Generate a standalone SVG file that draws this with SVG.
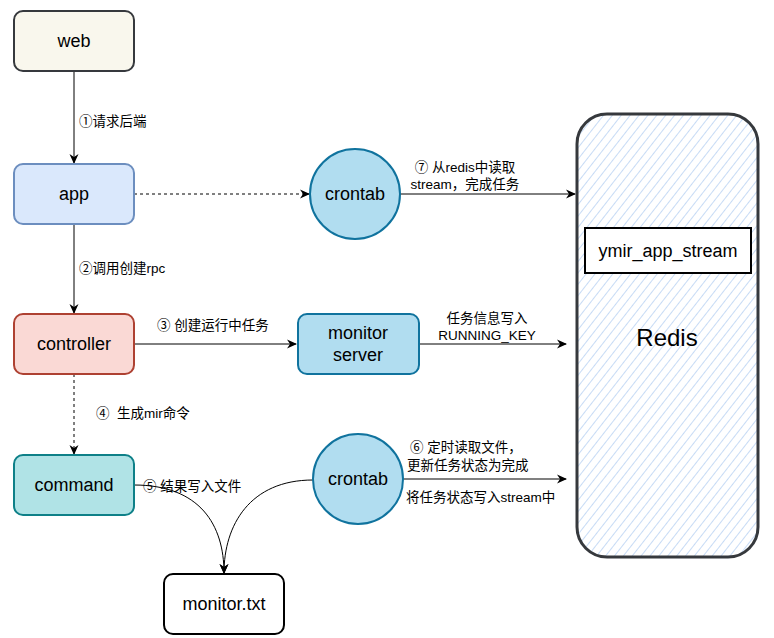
<svg xmlns="http://www.w3.org/2000/svg" width="774" height="638" viewBox="0 0 774 638">
<style>
.lbl{font-family:"Liberation Sans","Noto Sans CJK SC",Arial,sans-serif;font-size:18px;fill:#000;text-anchor:middle;dominant-baseline:central}
.el{font-family:"Liberation Sans","Noto Sans CJK SC",Arial,sans-serif;font-size:13.5px;fill:#000}
.edge{fill:none;stroke:#000;stroke-width:1}
.dash{stroke-dasharray:3 3}
</style>
<defs>
<marker id="arr" viewBox="0 0 10 10" refX="9" refY="5" markerWidth="10" markerHeight="10" markerUnits="userSpaceOnUse" orient="auto">
<path d="M0,0.5 L10,5 L0,9.5 L3,5 Z" fill="#000"/>
</marker>
<pattern id="hatch" patternUnits="userSpaceOnUse" width="7" height="7" patternTransform="rotate(38)">
<line x1="0" y1="0" x2="0" y2="7" stroke="#a9c8ef" stroke-width="1.3"/>
</pattern>
</defs>
<rect width="774" height="638" fill="#fff"/>
<g id="redis">
<rect x="577" y="114" width="181" height="443" rx="30" ry="30" fill="url(#hatch)" stroke="#36393d" stroke-width="3"/>
<text class="lbl" x="667" y="337" style="font-size:24px">Redis</text>
</g>
<g id="ymir_app_stream">
<rect x="585" y="228" width="166" height="45" fill="#fff" stroke="#000" stroke-width="2"/>
<text class="lbl" x="668" y="251">ymir_app_stream</text>
</g>
<g id="connectors">
<path class="edge" d="M74,71 V163" marker-end="url(#arr)"/>
<path class="edge" d="M74,224 V313" marker-end="url(#arr)"/>
<path class="edge dash" d="M74,374 V454" marker-end="url(#arr)"/>
<path class="edge dash" d="M134,194 H309" marker-end="url(#arr)"/>
<path class="edge" d="M400,194 H575" marker-end="url(#arr)"/>
<path class="edge" d="M134,344 H296" marker-end="url(#arr)"/>
<path class="edge" d="M419,344 H566" marker-end="url(#arr)"/>
<path class="edge" d="M403,479 H566" style="stroke:#808080;stroke-width:2" marker-end="url(#arr)"/>
<path class="edge" d="M134,485 C200,485 224,525 224,573" marker-end="url(#arr)"/>
<path class="edge" d="M313,480 C250,480 224,525 224,573" marker-end="url(#arr)"/>
<text class="el" x="79" y="126">①请求后端</text>
<text class="el" x="79" y="273">②调用创建rpc</text>
<text class="el" x="96" y="418" xml:space="preserve">④  生成mir命令</text>
<text class="el" x="157" y="330">③ 创建运行中任务</text>
<text class="el" x="465" y="172" text-anchor="middle">⑦ 从redis中读取</text>
<text class="el" x="465" y="189" text-anchor="middle">stream，完成任务</text>
<text class="el" x="487" y="323" text-anchor="middle">任务信息写入</text>
<text class="el" x="487" y="340" text-anchor="middle">RUNNING_KEY</text>
<text class="el" x="410" y="452">⑥ 定时读取文件，</text>
<text class="el" x="407" y="470">更新任务状态为完成</text>
<text class="el" x="406" y="502">将任务状态写入stream中</text>
<text class="el" x="143" y="491">⑤ 结果写入文件</text>
</g>
<g id="web">
<rect x="14" y="11" width="120" height="60" rx="9" fill="#f9f7ed" stroke="#36393d" stroke-width="2"/>
<text class="lbl" x="74" y="41">web</text>
</g>
<g id="app">
<rect x="14" y="164" width="120" height="60" rx="9" fill="#dae8fc" stroke="#6c8ebf" stroke-width="2"/>
<text class="lbl" x="74" y="194">app</text>
</g>
<g id="controller">
<rect x="14" y="314" width="120" height="60" rx="9" fill="#fad9d5" stroke="#ae4132" stroke-width="2"/>
<text class="lbl" x="74" y="344">controller</text>
</g>
<g id="command">
<rect x="14" y="455" width="120" height="60" rx="9" fill="#b0e3e6" stroke="#0e8088" stroke-width="2"/>
<text class="lbl" x="74" y="485">command</text>
</g>
<g id="monitor_txt">
<rect x="164" y="574" width="120" height="60" rx="9" fill="#fff" stroke="#000" stroke-width="2"/>
<text class="lbl" x="224" y="604">monitor.txt</text>
</g>
<g id="crontab1">
<circle cx="355" cy="194" r="45" fill="#b1ddf0" stroke="#10739e" stroke-width="2"/>
<text class="lbl" x="355" y="194">crontab</text>
</g>
<g id="monitor_server">
<rect x="298" y="314" width="121" height="60" rx="9" fill="#b1ddf0" stroke="#10739e" stroke-width="2"/>
<text class="lbl" x="358" y="333">monitor</text>
<text class="lbl" x="358" y="355">server</text>
</g>
<g id="crontab2">
<circle cx="358" cy="479" r="45" fill="#b1ddf0" stroke="#10739e" stroke-width="2"/>
<text class="lbl" x="358" y="479">crontab</text>
</g>
</svg>
